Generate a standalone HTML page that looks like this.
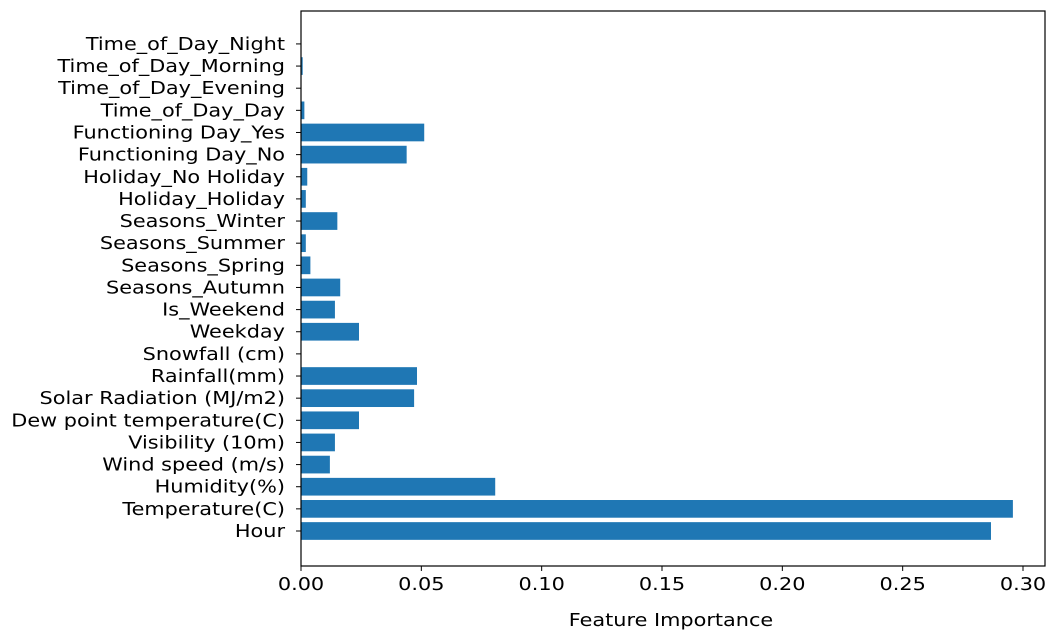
<!DOCTYPE html>
<html><head><meta charset="utf-8"><style>
html,body{margin:0;padding:0;background:#fff;}
svg{display:block;font-family:"DejaVu Sans","Liberation Sans",sans-serif;}
</style></head><body>
<svg id="chart" width="1052" height="639" viewBox="0 0 1052 639"></svg>
<script>
const categories = ["Hour","Temperature(C)","Humidity(%)","Wind speed (m/s)","Visibility (10m)","Dew point temperature(C)","Solar Radiation (MJ/m2)","Rainfall(mm)","Snowfall (cm)","Weekday","Is_Weekend","Seasons_Autumn","Seasons_Spring","Seasons_Summer","Seasons_Winter","Holiday_Holiday","Holiday_No Holiday","Functioning Day_No","Functioning Day_Yes","Time_of_Day_Day","Time_of_Day_Evening","Time_of_Day_Morning","Time_of_Day_Night"];
const importances = [0.2867,0.2958,0.0807,0.0120,0.0141,0.0241,0.0470,0.0482,0.0000,0.0241,0.0141,0.0163,0.0039,0.0020,0.0151,0.0020,0.0026,0.0439,0.0512,0.0014,0.0001,0.0007,0.0001];
const xTicks = [0,0.05,0.10,0.15,0.20,0.25,0.30];
const xTickLabels = ["0.00","0.05","0.10","0.15","0.20","0.25","0.30"];

const NS="http://www.w3.org/2000/svg";
const svg=document.getElementById('chart');
const L=301,R=1045,T=11,B=566;
const SX=1.19;
const x=v=>L+v*(722/0.30);
const y=i=>531-i*22.14;
const bh=17.7;
function mk(t,a){const e=document.createElementNS(NS,t);for(const k in a)e.setAttribute(k,a[k]);svg.appendChild(e);return e;}
function txt(tx,ty,anchor){return mk('text',{x:0,y:0,'text-anchor':anchor,'font-size':'17.5px',fill:'#000',transform:'translate('+tx+','+ty+') scale('+SX+',1)'});}

categories.forEach((c,i)=>{
  const r=mk('rect',{x:x(0),y:y(i)-bh/2,width:Math.max(0,x(importances[i])-x(0)),height:bh,fill:'#1f77b4'});
  
  
  const tk=mk('line',{x1:L-5,x2:L,y1:y(i),y2:y(i),stroke:'#000','stroke-width':1});
  
  
  const t=txt(L-16,y(i)+6,'end');
  t.textContent=c;
  
  
});
xTicks.forEach((v,i)=>{
  const tk=mk('line',{x1:x(v),x2:x(v),y1:B,y2:B+5,stroke:'#000','stroke-width':1});
  
  
  const t=txt(x(v),B+24,'middle');
  t.textContent=xTickLabels[i];
  
  
});
const fr=mk('rect',{x:L,y:T,width:R-L,height:B-T,fill:'none',stroke:'#000','stroke-width':1.2});


const xt=txt((L+R)/2-2,626,'middle');
xt.textContent='Feature Importance';


</script>
</body></html>
